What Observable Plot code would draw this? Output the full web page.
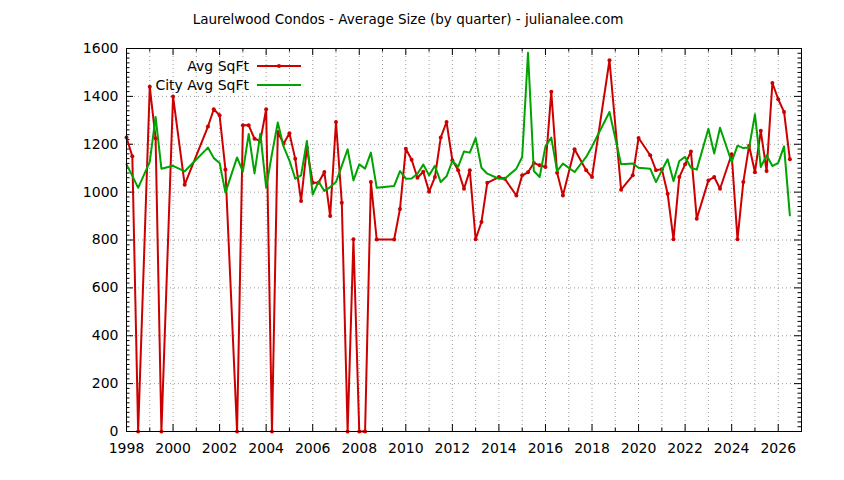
<!DOCTYPE html>
<html><head><meta charset="utf-8">
<script src="https://cdn.jsdelivr.net/npm/d3@7"></script>
<script src="https://cdn.jsdelivr.net/npm/@observablehq/plot@0.6"></script>
<style>
body{margin:0;background:#fff}
#chart{width:844px;height:480px}
</style>
</head><body><div id="chart"></div>
<script>
const quarters = [
"1998Q1","1998Q2","1998Q3",
"1999Q1","1999Q2","1999Q3",
"2000Q1","2000Q3",
"2001Q3","2001Q4",
"2002Q1","2002Q2","2002Q4",
"2003Q1","2003Q2","2003Q3","2003Q4",
"2004Q1","2004Q2","2004Q3","2004Q4",
"2005Q1","2005Q2","2005Q3","2005Q4",
"2006Q1","2006Q2","2006Q3","2006Q4",
"2007Q1","2007Q2","2007Q3","2007Q4",
"2008Q1","2008Q2","2008Q3","2008Q4",
"2009Q3","2009Q4",
"2010Q1","2010Q2","2010Q3","2010Q4",
"2011Q1","2011Q2","2011Q3","2011Q4",
"2012Q1","2012Q2","2012Q3","2012Q4",
"2013Q1","2013Q2","2013Q3",
"2014Q1","2014Q2","2014Q4",
"2015Q1","2015Q2","2015Q3","2015Q4",
"2016Q1","2016Q2","2016Q3","2016Q4",
"2017Q2","2017Q4",
"2018Q1","2018Q4",
"2019Q2","2019Q4",
"2020Q1","2020Q3","2020Q4",
"2021Q1","2021Q2","2021Q3","2021Q4",
"2022Q1","2022Q2","2022Q3",
"2023Q1","2023Q2","2023Q3",
"2024Q1","2024Q2","2024Q3","2024Q4",
"2025Q1","2025Q2","2025Q3","2025Q4",
"2026Q1","2026Q2","2026Q3"
];
const avgSqft = [
1228,1150,0,
1440,1225,0,
1400,1031,
1274,1346,
1321,1095,0,
1279,1279,1223,1214,
1346,0,1251,1202,
1246,1139,963,1185,
1039,1039,1084,900,
1293,956,0,803,
0,0,1042,802,
802,930,
1181,1135,1060,1085,
1002,1063,1228,1293,
1133,1091,1014,1091,
803,875,1039,
1063,1056,986,
1070,1083,1122,1112,
1105,1419,1081,986,
1179,1091,
1063,1551,
1010,1070,
1226,1154,1091,
1096,993,803,1063,
1116,1170,889,
1049,1063,1014,
1158,803,1042,1194,
1083,1256,1088,1456,
1388,1335,1137
];
const cityAvgSqft = [
1116,1068,1018,
1126,1314,1098,
1110,1087,
1186,1142,
1122,998,1145,
1086,1243,1078,1244,
1019,1160,1291,1190,
1132,1056,1070,1214,
990,1044,1005,1021,
1042,1110,1179,1049,
1116,1098,1165,1018,
1026,1088,
1056,1057,1077,1115,
1070,1110,1042,1066,
1130,1106,1170,1165,
1226,1102,1077,
1056,1056,1098,
1147,1582,1088,1063,
1191,1228,1088,1119,
1084,1147,
1191,1335,
1116,1120,
1102,1098,1042,
1091,1137,1046,1130,
1147,1102,1094,
1265,1161,1269,
1126,1194,1184,1186,
1325,1105,1154,1109,
1122,1191,903
];
const xTickLabels = [1998,2000,2002,2004,2006,2008,2010,2012,2014,2016,2018,2020,2022,2024,2026];
const yTickLabels = [0,200,400,600,800,1000,1200,1400,1600];
const seriesNames = ["Avg SqFt","City Avg SqFt"];
const titleText = "Laurelwood Condos - Average Size (by quarter) - julianalee.com";

const RED = "#cc0000", GREEN = "#00a300";
const qx = q => +q.slice(0,4) + (+q.slice(5) - 1) / 4;
const data = quarters.map((q,i) => ({x: qx(q), sqft: avgSqft[i], city: cityAvgSqft[i]}));

const minorX = d3.range(1999, 2027, 2);
const gridXv = d3.range(1999, 2027);
const gridYv = yTickLabels.slice(1, -1);
const minorY = d3.range(20, 1600, 20).filter(v => v % 200 !== 0);

const W = 844, H = 480, ML = 126, MR = 43, MT = 48, MB = 49;
const PW = W - ML - MR, PH = H - MT - MB;
const MAJ = 7, MIN = 3.5;
const font = "DejaVu Sans";
const tk = {stroke: "#000", strokeWidth: 1};
const plot = Plot.plot({
  width: W, height: H,
  marginLeft: ML, marginRight: MR, marginTop: MT, marginBottom: MB,
  style: {fontFamily: font, fontSize: "14px", color: "#000", background: "#fff"},
  x: {domain: [1998, 2027]},
  y: {domain: [0, 1600]},
  marks: [
    Plot.gridX(gridXv, {stroke: "#999", strokeOpacity: 1, strokeDasharray: "1,3"}),
    Plot.gridY(gridYv, {stroke: "#999", strokeOpacity: 1, strokeDasharray: "1,3"}),
    Plot.ruleX(xTickLabels, {...tk, insetTop: PH - MAJ}),
    Plot.ruleX(xTickLabels, {...tk, insetBottom: PH - MAJ}),
    Plot.ruleX(minorX, {...tk, insetTop: PH - MIN}),
    Plot.ruleX(minorX, {...tk, insetBottom: PH - MIN}),
    Plot.ruleY(yTickLabels, {...tk, insetRight: PW - MAJ}),
    Plot.ruleY(yTickLabels, {...tk, insetLeft: PW - MAJ}),
    Plot.ruleY(minorY, {...tk, insetRight: PW - MIN}),
    Plot.ruleY(minorY, {...tk, insetLeft: PW - MIN}),
    Plot.line(data, {x: "x", y: "sqft", stroke: RED, strokeWidth: 2}),
    Plot.dot(data, {x: "x", y: "sqft", r: 2, fill: RED}),
    Plot.line(data, {x: "x", y: "city", stroke: GREEN, strokeWidth: 2}),
    Plot.axisX(xTickLabels, {tickSize: 0, tickPadding: 12, tickFormat: d => String(d), label: null}),
    Plot.axisY(yTickLabels, {tickSize: 0, tickPadding: 8, tickFormat: d => String(d), label: null}),
    Plot.frame({stroke: "#000", strokeWidth: 1})
  ]
});
document.getElementById("chart").appendChild(plot);

const svg = d3.select(plot);
svg.append("text").attr("x", 408).attr("y", 24).attr("text-anchor", "middle")
  .attr("font-family", font).attr("font-size", 13.5).attr("fill", "#000").text(titleText);

const lg = svg.append("g").attr("font-family", font).attr("font-size", 14);
const legendRows = [{name: seriesNames[0], color: RED, marker: true, y: 66}, {name: seriesNames[1], color: GREEN, marker: false, y: 85}];
legendRows.forEach(r => {
  lg.append("text").attr("x", 249).attr("y", r.y).attr("dy", "0.35em").attr("text-anchor", "end").attr("fill", "#000").text(r.name);
  lg.append("line").attr("x1", 257).attr("x2", 301).attr("y1", r.y).attr("y2", r.y).attr("stroke", r.color).attr("stroke-width", 2);
  if (r.marker) lg.append("circle").attr("cx", 279).attr("cy", r.y).attr("r", 2).attr("fill", r.color);
});
</script>
</body></html>
